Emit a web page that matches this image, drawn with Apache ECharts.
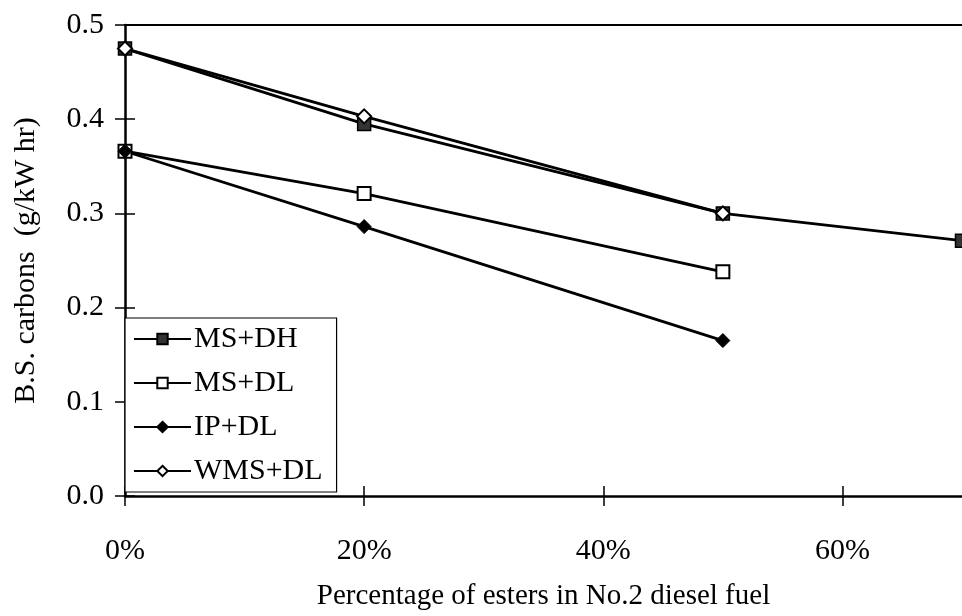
<!DOCTYPE html>
<html>
<head>
<meta charset="utf-8">
<script src="https://cdn.jsdelivr.net/npm/echarts@6/dist/echarts.min.js"></script>
<style>html,body{margin:0;padding:0;background:#fff}#c{width:962px;height:616px}</style>
</head>
<body>
<div id="c"></div>
<script>
// Data (x = % esters, y = g/kW hr)
const seriesNames = ['MS+DH', 'MS+DL', 'IP+DL', 'WMS+DL'];
const msDhX = [0, 20, 50, 70];
const msDhY = [0.475, 0.395, 0.300, 0.271];
const msDlX = [0, 20, 50];
const msDlY = [0.366, 0.321, 0.238];
const ipDlX = [0, 20, 50];
const ipDlY = [0.366, 0.286, 0.165];
const wmsDlX = [0, 20, 50];
const wmsDlY = [0.475, 0.403, 0.300];
const xTicks = [0, 20, 40, 60];
const yTicks = [0.0, 0.1, 0.2, 0.3, 0.4, 0.5];

const pairs = (xs, ys) => xs.map((x, i) => [x, ys[i]]);
const FONT = '"Liberation Serif", "Times New Roman", serif';

const chart = echarts.init(document.getElementById('c'), null, {renderer: 'canvas'});

const baseLine = {type: 'line', clip: true, lineStyle: {color: '#000', width: 2.8}, z: 3};

const styles = [
  {symbol: 'rect', symbolSize: 13, itemStyle: {color: '#333', borderColor: '#000', borderWidth: 1.5}},
  {symbol: 'rect', symbolSize: 13, itemStyle: {color: '#fff', borderColor: '#000', borderWidth: 2}},
  {symbol: 'diamond', symbolSize: 14, itemStyle: {color: '#000', borderColor: '#000', borderWidth: 1}},
  {symbol: 'diamond', symbolSize: 14, itemStyle: {color: '#fff', borderColor: '#000', borderWidth: 2}}
];
const datas = [pairs(msDhX, msDhY), pairs(msDlX, msDlY), pairs(ipDlX, ipDlY), pairs(wmsDlX, wmsDlY)];

const series = seriesNames.map((n, i) => Object.assign({}, baseLine, styles[i], {
  name: n, data: datas[i], showSymbol: true, xAxisIndex: 0, yAxisIndex: 0
}));

const xCommon = {type: 'value', min: 0, max: 70, interval: 20, splitLine: {show: false}};
const yCommon = {type: 'value', min: 0, max: 0.5, interval: 0.1, splitLine: {show: false}};

chart.setOption({
  animation: false,
  backgroundColor: '#fff',
  textStyle: {fontFamily: FONT},
  grid: {left: 125, top: 25, width: 840, height: 474, containLabel: false},
  legend: {
    orient: 'vertical',
    left: 125, top: 318,
    backgroundColor: '#fff',
    borderColor: '#000', borderWidth: 1.2,
    padding: [6, 14, 6, 8],
    itemWidth: 57, itemHeight: 13, itemGap: 14,
    textStyle: {fontFamily: FONT, fontSize: 30, color: '#000', padding: [0, 0, 0, -2]},
    data: seriesNames
  },
  xAxis: [
    Object.assign({}, xCommon, {
      position: 'bottom',
      name: 'Percentage of esters in No.2 diesel fuel',
      nameLocation: 'middle', nameGap: 86,
      nameTextStyle: {fontFamily: FONT, fontSize: 29, color: '#000'},
      axisLine: {show: true, onZero: false, lineStyle: {color: '#000', width: 2.5}},
      axisTick: {show: true, inside: false, length: 10, lineStyle: {color: '#000', width: 1.5},
        customValues: xTicks},
      axisLabel: {fontFamily: FONT, fontSize: 30, color: '#000', margin: 40,
        customValues: xTicks, formatter: v => v + '%'}
    }),
    Object.assign({}, xCommon, {
      position: 'bottom',
      axisLine: {show: false, onZero: false},
      axisTick: {show: true, inside: true, length: 10, lineStyle: {color: '#000', width: 1.5},
        customValues: xTicks},
      axisLabel: {show: false}
    }),
    Object.assign({}, xCommon, {
      position: 'top',
      axisLine: {show: true, onZero: false, lineStyle: {color: '#000', width: 2}},
      axisTick: {show: false},
      axisLabel: {show: false}
    })
  ],
  yAxis: [
    Object.assign({}, yCommon, {
      position: 'left',
      name: 'B.S. carbons  (g/kW hr)',
      nameLocation: 'middle', nameGap: 84,
      nameTextStyle: {fontFamily: FONT, fontSize: 30, color: '#000'},
      axisLine: {show: true, onZero: false, lineStyle: {color: '#000', width: 2.5}},
      axisTick: {show: true, inside: false, length: 10, lineStyle: {color: '#000', width: 1.5},
        customValues: yTicks},
      axisLabel: {fontFamily: FONT, fontSize: 30, color: '#000', margin: 21,
        customValues: yTicks, formatter: v => v.toFixed(1)}
    }),
    Object.assign({}, yCommon, {
      position: 'left',
      axisLine: {show: false, onZero: false},
      axisTick: {show: true, inside: true, length: 10, lineStyle: {color: '#000', width: 1.5},
        customValues: yTicks},
      axisLabel: {show: false}
    })
  ],
  series: series
});
</script>
</body>
</html>
